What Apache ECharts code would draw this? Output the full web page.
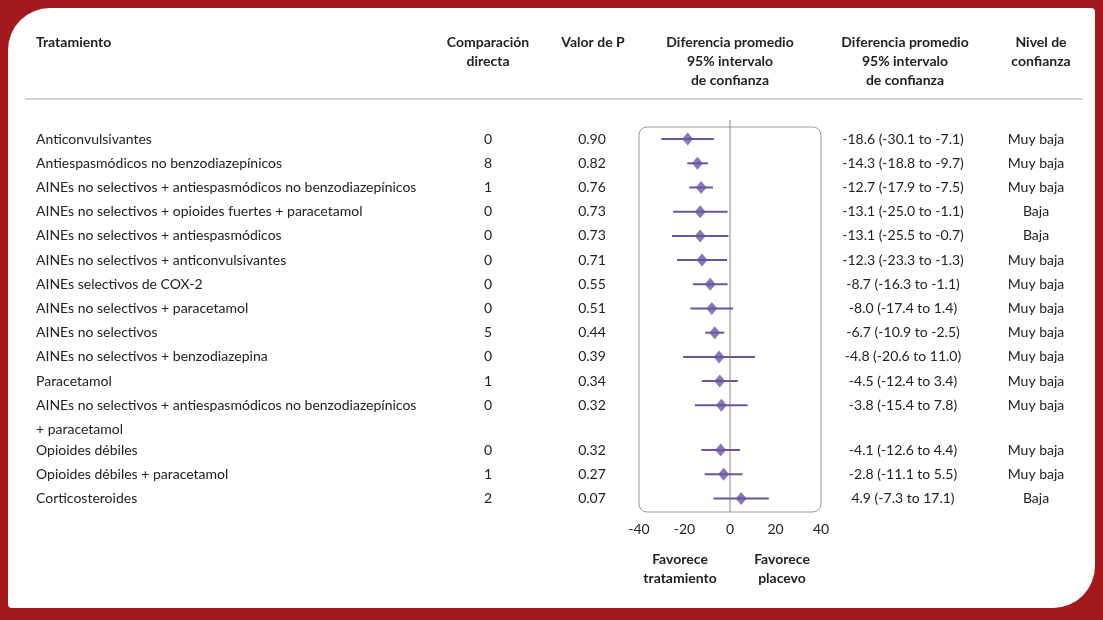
<!DOCTYPE html>
<html><head><meta charset="utf-8">
<script src="https://cdn.jsdelivr.net/npm/echarts@6/dist/echarts.min.js"></script>
<style>
html,body{margin:0;padding:0;background:#a3191c;width:1103px;height:620px;overflow:hidden}
#frame{position:absolute;left:8px;top:8px;width:1087px;height:600px;background:#fff;border-radius:42px 4px 42px 4px}
#c{position:absolute;left:0;top:0;width:1103px;height:620px}
</style></head><body>
<div id="frame"></div>
<div id="c"></div>
<script>
const treatments = ["Anticonvulsivantes","Antiespasmódicos no benzodiazepínicos","AINEs no selectivos + antiespasmódicos no benzodiazepínicos","AINEs no selectivos + opioides fuertes + paracetamol","AINEs no selectivos + antiespasmódicos","AINEs no selectivos + anticonvulsivantes","AINEs selectivos de COX-2","AINEs no selectivos + paracetamol","AINEs no selectivos","AINEs no selectivos + benzodiazepina","Paracetamol","AINEs no selectivos + antiespasmódicos no benzodiazepínicos\n+ paracetamol","Opioides débiles","Opioides débiles + paracetamol","Corticosteroides"];
const rowSlots = [0,1,2,3,4,5,6,7,8,9,10,11,12.85,13.85,14.85];
const direct = [0,8,1,0,0,0,0,0,5,0,1,0,0,1,2];
const pValues = ["0.90","0.82","0.76","0.73","0.73","0.71","0.55","0.51","0.44","0.39","0.34","0.32","0.32","0.27","0.07"];
const meanDiff = [-18.6,-14.3,-12.7,-13.1,-13.1,-12.3,-8.7,-8.0,-6.7,-4.8,-4.5,-3.8,-4.1,-2.8,4.9];
const ciLow = [-30.1,-18.8,-17.9,-25.0,-25.5,-23.3,-16.3,-17.4,-10.9,-20.6,-12.4,-15.4,-12.6,-11.1,-7.3];
const ciHigh = [-7.1,-9.7,-7.5,-1.1,-0.7,-1.3,-1.1,1.4,-2.5,11.0,3.4,7.8,4.4,5.5,17.1];
const confidence = ["Muy baja","Muy baja","Muy baja","Baja","Baja","Muy baja","Muy baja","Muy baja","Muy baja","Muy baja","Muy baja","Muy baja","Muy baja","Muy baja","Baja"];
const xTicks = [-40,-20,0,20,40];

const FONT = "Lato, 'Open Sans', sans-serif";
const PURPLE = "#6b55a3";
const chart = echarts.init(document.getElementById('c'));
chart.setOption({
  animation:false,
  grid:{left:639,top:127,width:182,height:385},
  xAxis:{type:'value',min:xTicks[0],max:xTicks[xTicks.length-1],interval:20,
    axisLine:{show:false},axisTick:{show:false},
    splitLine:{show:false},axisLabel:{color:'#222',fontSize:14,fontFamily:FONT,margin:10}},
  yAxis:{type:'value',inverse:true,min:-0.5,max:15.41,show:false},
  series:[
    {type:'custom',renderItem:function(p,api){
        const a=api.coord([api.value(0),api.value(2)]),b=api.coord([api.value(1),api.value(2)]);
        return {type:'line',shape:{x1:a[0],y1:a[1],x2:b[0],y2:b[1]},style:{stroke:PURPLE,lineWidth:2}};
      },
      data:ciLow.map((l,i)=>[l,ciHigh[i],rowSlots[i]]),z:2},
    {type:'scatter',symbol:'diamond',symbolSize:[11,13],itemStyle:{color:PURPLE},
      data:meanDiff.map((m,i)=>[m,rowSlots[i]]),z:3}
  ]
});
const g=[];
const txt=(x,y,t,o)=>g.push({type:'text',x:x,y:y,style:Object.assign({text:t,fill:'#222',font:'14px '+FONT,textVerticalAlign:'middle'},o||{})});
const bold='bold 14px '+FONT;
g.push({type:'rect',shape:{x:639,y:127,width:182,height:385,r:8},style:{fill:'none',stroke:'#999',lineWidth:1},z:-1});
g.push({type:'line',shape:{x1:730,y1:120,x2:730,y2:512},style:{stroke:'#888',lineWidth:1},z:-1});
g.push({type:'line',shape:{x1:25,y1:99,x2:1083,y2:99},style:{stroke:'#aaa',lineWidth:1}});
txt(36,42,'Tratamiento',{font:bold});
[[488,['Comparación','directa']],[593,['Valor de P']],[730,['Diferencia promedio','95% intervalo','de confianza']],[905,['Diferencia promedio','95% intervalo','de confianza']],[1041,['Nivel de','confianza']]]
 .forEach(([x,ls])=>ls.forEach((l,k)=>txt(x,42+k*19,l,{font:bold,textAlign:'center'})));
const f=v=>v.toFixed(1);
treatments.forEach((t,i)=>{
  const y=chart.convertToPixel({gridIndex:0},[0,rowSlots[i]])[1];
  const parts=t.split('\n');
  txt(36,y,parts[0]); if(parts[1]) txt(36,y+24,parts[1]);
  txt(488,y,String(direct[i]),{textAlign:'center'});
  txt(592,y,pValues[i],{textAlign:'center'});
  txt(903,y,f(meanDiff[i])+' ('+f(ciLow[i])+' to '+f(ciHigh[i])+')',{textAlign:'center'});
  txt(1036,y,confidence[i],{textAlign:'center'});
});
txt(680,559,'Favorece',{font:bold,textAlign:'center'});
txt(680,578,'tratamiento',{font:bold,textAlign:'center'});
txt(782,559,'Favorece',{font:bold,textAlign:'center'});
txt(782,578,'placevo',{font:bold,textAlign:'center'});
chart.setOption({graphic:g});
</script></body></html>
